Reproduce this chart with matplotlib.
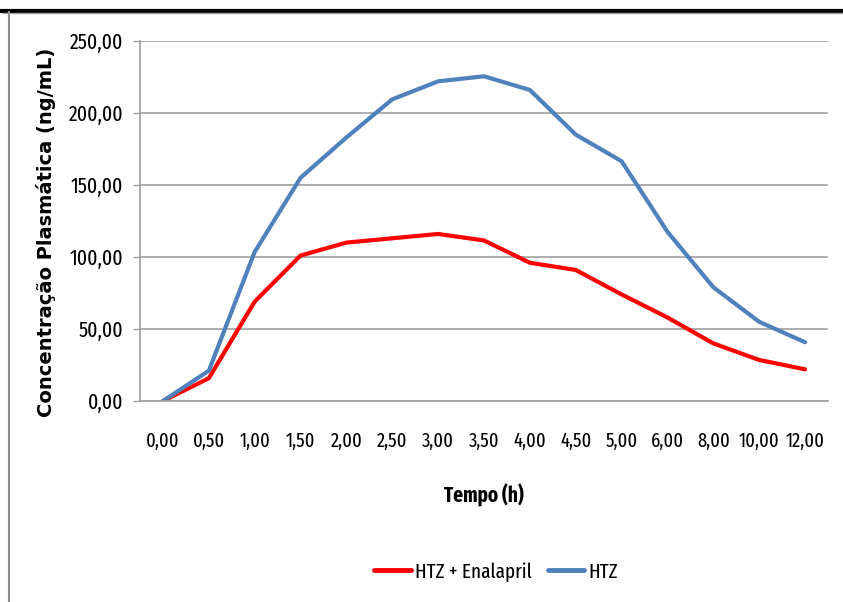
import matplotlib
matplotlib.use("Agg")
import matplotlib.pyplot as plt
from matplotlib.lines import Line2D

categories = ["0,00", "0,50", "1,00", "1,50", "2,00", "2,50", "3,00", "3,50",
              "4,00", "4,50", "5,00", "6,00", "8,00", "10,00", "12,00"]
htz_enalapril = [0.0, 15.8, 69.0, 101.0, 110.0, 113.0, 116.0, 111.5,
                 96.0, 91.0, 74.0, 58.0, 40.0, 28.5, 22.0]
htz = [0.0, 21.0, 103.5, 155.0, 183.0, 209.5, 222.0, 225.5,
       216.0, 185.0, 166.5, 117.5, 79.0, 55.0, 40.8]
yticks = [0, 50, 100, 150, 200, 250]

narrow = ["Fira Sans Extra Condensed", "DejaVu Sans"]

fig = plt.figure(figsize=(8.43, 6.02), dpi=100)
ax = fig.add_axes([140/843, 1-401/602, 688/843, 360/602])

x = list(range(len(categories)))
ax.plot(x, htz_enalapril, color="#FF0000", lw=3.0, label="HTZ + Enalapril", solid_capstyle="round")
ax.plot(x, htz, color="#4F81BD", lw=3.0, label="HTZ", solid_capstyle="round")

ax.set_xlim(-0.5, len(categories) - 0.5)
ax.set_ylim(0, 250)
ax.set_yticks(yticks)
ax.set_yticklabels([f"{v:.2f}".replace(".", ",") for v in yticks], family=narrow, fontsize=15.5)
ax.set_xticks(x)
ax.set_xticklabels(categories, family=narrow, fontsize=14.5)
ax.tick_params(axis="x", length=0, pad=22)
ax.tick_params(axis="y", length=5, width=1.0, color="#A0A0A0", pad=7)

ax.grid(axis="y", color="#A0A0A0", lw=1.2)
ax.set_axisbelow(True)
for s in ["top", "right"]:
    ax.spines[s].set_visible(False)
for s in ["left", "bottom"]:
    ax.spines[s].set_color("#A0A0A0")
    ax.spines[s].set_linewidth(1.2)

ax.set_ylabel("Concentração Plasmática (ng/mL)", family="DejaVu Sans",
              fontweight="bold", fontsize=14, va="center")
ax.yaxis.set_label_coords(-(140-46)/688, (401-232)/360)
ax.set_xlabel("Tempo (h)", family=narrow, fontweight="bold", fontsize=15, va="center")
ax.xaxis.set_label_coords(0.5, -(495-401)/360)

leg = fig.legend(loc="center", bbox_to_anchor=(496/843, 1-572/602), ncol=2, frameon=False,
                 prop={"family": narrow, "size": 15}, handlelength=1.75, handletextpad=0.2,
                 columnspacing=0.75)
for h in leg.get_lines():
    h.set_linewidth(3.5)

# frame lines of the original screenshot
fig.add_artist(Line2D([0, 1], [1-10.5/602, 1-10.5/602], color="black", lw=3, transform=fig.transFigure))
fig.add_artist(Line2D([0.003, 1], [1-13/602, 1-13/602], color="#A0A0A0", lw=1, transform=fig.transFigure))
fig.add_artist(Line2D([8.5/843, 8.5/843], [0, 1-12/602], color="#909090", lw=1.5, transform=fig.transFigure))

fig.savefig("out.png", dpi=100, facecolor="white")
